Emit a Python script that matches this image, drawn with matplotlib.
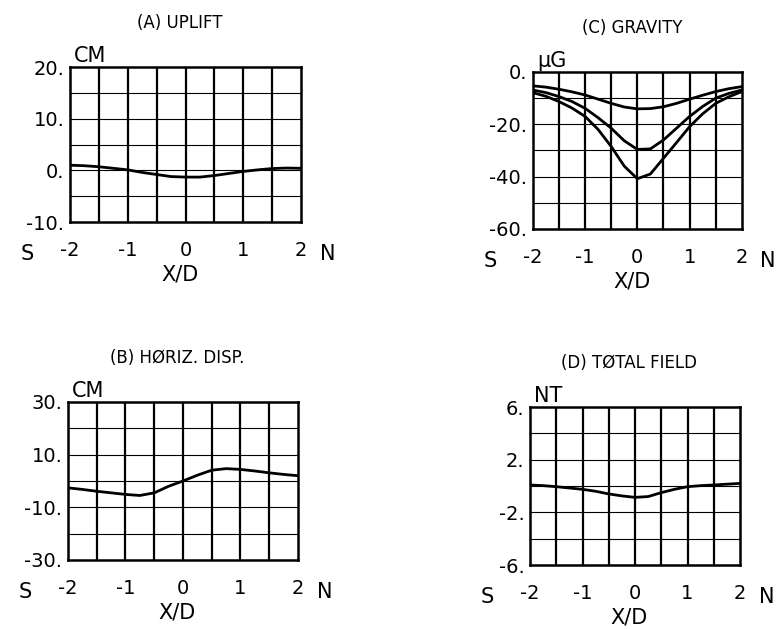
#empat panel profil: uplift, horiz disp, gravity, total field
import numpy as np
import matplotlib.pyplot as plt

plt.rcParams['font.family'] = ['DejaVu Sans']

#posisi x (X/D) tempat nilai dibaca, tiap 0.25
x = [-2, -1.75, -1.5, -1.25, -1, -0.75, -0.5, -0.25, 0, 0.25, 0.5, 0.75, 1, 1.25, 1.5, 1.75, 2]

#(A) uplift, cm
uplift = [1.0, 0.9, 0.7, 0.4, 0.1, -0.4, -0.8, -1.2, -1.3, -1.3, -1.0, -0.6, -0.2, 0.1, 0.35, 0.45, 0.4]

#(B) horiz. disp, cm
disp = [-2.6, -3.2, -3.9, -4.5, -5.1, -5.5, -4.5, -2.0, 0.0, 2.2, 4.1, 4.7, 4.4, 3.8, 3.1, 2.5, 2.0]

#(C) gravity, microGal (tiga kurva)
grav_1 = [-5.3, -5.8, -6.6, -7.6, -8.8, -10.4, -12.0, -13.4, -14.1, -14.0, -13.3, -12.0, -10.4, -8.9, -7.5, -6.4, -5.6]
grav_2 = [-6.9, -7.9, -9.4, -11.3, -13.9, -17.5, -21.5, -26.3, -29.6, -29.4, -26.0, -21.5, -17.0, -13.2, -10.0, -8.2, -6.9]
grav_3 = [-7.9, -9.3, -11.3, -13.8, -17.0, -22.0, -28.5, -36.0, -40.8, -39.0, -33.0, -27.0, -20.9, -16.0, -12.0, -9.5, -7.5]

#(D) total field, nT
field = [0.08, 0.03, -0.05, -0.15, -0.25, -0.4, -0.6, -0.75, -0.86, -0.8, -0.5, -0.25, -0.05, 0.03, 0.08, 0.14, 0.2]

x_ticks = [-2, -1, 0, 1, 2]
x_labels = ['-2', '-1', '0', '1', '2']

fig = plt.figure(figsize=(7.79, 6.29), dpi=100)


def panel(rect, title, unit, ylim, ystep, yticks, ylabels, curves):
    ax = fig.add_axes(rect)
    ax.set_xlim(-2, 2)
    ax.set_ylim(*ylim)
    #garis grid vertikal tebal, horizontal tipis
    for gx in np.arange(-1.5, 2.0, 0.5):
        ax.axvline(gx, color='black', lw=1.6)
    for gy in np.arange(ylim[0] + ystep, ylim[1], ystep):
        ax.axhline(gy, color='black', lw=0.8)
    for ys in curves:
        ax.plot(x, ys, color='black', lw=2.0)
    for s in ax.spines.values():
        s.set_linewidth(1.8)
    ax.set_xticks(x_ticks)
    ax.set_xticklabels(x_labels, fontsize=14)
    ax.set_yticks(yticks)
    ax.set_yticklabels(ylabels, fontsize=14)
    ax.tick_params(length=0, pad=4)
    ax.tick_params(axis='x', pad=14)
    #teks S, N, X/D dan satuan, jaraknya dalam points dari sumbu
    ax.annotate('S', (0, 0), xycoords='axes fraction', xytext=(-31, -23),
                textcoords='offset points', fontsize=15, ha='center', va='center')
    ax.annotate('N', (1, 0), xycoords='axes fraction', xytext=(19, -23),
                textcoords='offset points', fontsize=15, ha='center', va='center')
    ax.annotate('X/D', (0.5, 0), xycoords='axes fraction', xytext=(-4, -38),
                textcoords='offset points', fontsize=15, ha='center', va='center')
    ax.annotate(unit, (0, 1), xycoords='axes fraction', xytext=(3, 1),
                textcoords='offset points', fontsize=15, ha='left', va='bottom')
    ax.annotate(title, (0.5, 1), xycoords='axes fraction', xytext=(-4, 32),
                textcoords='offset points', fontsize=12, ha='center', va='center')
    return ax


panel([0.0899, 0.647, 0.2965, 0.2464], '(A) UPLIFT', 'CM', (-10, 20), 5,
      [20, 10, 0, -10], ['20.', '10.', '0.', '-10.'], [uplift])
panel([0.684, 0.636, 0.2683, 0.2496], '(C) GRAVITY', 'μG', (-60, 0), 10,
      [0, -20, -40, -60], ['0.', '-20.', '-40.', '-60.'], [grav_1, grav_2, grav_3])
panel([0.0873, 0.1097, 0.2952, 0.2512], '(B) HØRIZ. DISP.', 'CM', (-30, 30), 10,
      [30, 10, -10, -30], ['30.', '10.', '-10.', '-30.'], [disp])
panel([0.6804, 0.1017, 0.2696, 0.2512], '(D) TØTAL FIELD', 'NT', (-6, 6), 2,
      [6, 2, -2, -6], ['6.', '2.', '-2.', '-6.'], [field])

fig.savefig('out.png', dpi=100)
